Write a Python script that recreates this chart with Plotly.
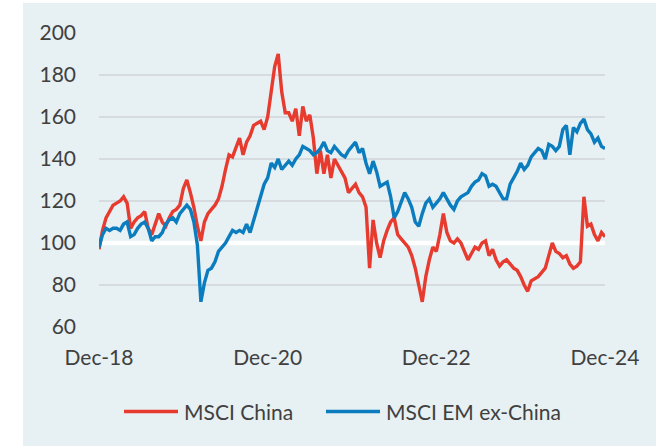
import pandas as pd
import plotly.graph_objects as go

# semi-monthly observations, Dec-2018 .. Dec-2024
dates = pd.date_range(start="2018-12-31", end="2024-12-31", periods=145)

msci_china = [
    97, 106, 112, 115, 118, 119, 120, 122, 119, 107,
    110, 112, 113, 115, 107, 104, 109, 114, 110, 108,
    112, 115, 116, 118, 126, 130, 124, 117, 108, 101,
    110, 114, 116, 118, 121, 127, 135, 142, 141, 145,
    150, 142, 148, 151, 156, 157, 158, 154, 160, 172,
    184, 190, 172, 162, 162, 158, 164, 151, 165, 158,
    161, 150, 133, 144, 133, 142, 131, 140, 137, 134,
    131, 124, 126, 128, 124, 122, 117, 88, 111, 100,
    93, 101, 106, 110, 112, 104, 102, 100, 98, 94,
    88, 80, 72, 84, 92, 98, 96, 104, 114, 105,
    101, 100, 102, 100, 96, 92, 95, 98, 97, 100,
    101, 94, 97, 92, 89, 91, 92, 90, 88, 87,
    84, 80, 77, 82, 83, 84, 86, 88, 94, 100,
    96, 95, 93, 94, 90, 88, 89, 91, 122, 108,
    109, 104, 101, 105, 103,
]

msci_em_ex_china = [
    98, 104, 107, 106, 107, 107, 106, 109, 110, 103,
    104, 107, 109, 110, 107, 101, 103, 103, 105, 109,
    111, 112, 110, 114, 116, 118, 116, 110, 99, 72,
    81, 87, 88, 91, 96, 98, 100, 103, 106, 105,
    106, 105, 109, 105, 111, 117, 122, 128, 131, 138,
    136, 140, 135, 137, 139, 137, 140, 142, 146, 145,
    144, 142, 143, 145, 148, 144, 143, 146, 144, 142,
    141, 144, 146, 148, 143, 145, 138, 133, 139, 134,
    127, 128, 129, 122, 112, 115, 119, 124, 121, 117,
    110, 108, 114, 119, 121, 117, 119, 121, 124, 121,
    118, 116, 120, 122, 123, 124, 127, 129, 130, 133,
    132, 127, 128, 127, 124, 121, 121, 128, 131, 134,
    138, 135, 137, 141, 143, 145, 144, 140, 147, 146,
    144, 146, 154, 156, 142, 155, 153, 157, 159, 154,
    152, 148, 150, 146, 145,
]

base_value = 100  # rebased starting level (white reference line)

series_names = ["MSCI China", "MSCI EM ex-China"]
series_colors = ["#E63B2E", "#0B7DBE"]

x_tick_vals = ["2018-12-31", "2020-12-31", "2022-12-31", "2024-12-31"]
x_tick_text = ["Dec-18", "Dec-20", "Dec-22", "Dec-24"]
y_tick_vals = [60, 80, 100, 120, 140, 160, 180, 200]

W, H = 660, 446
L, R, T, B = 99, 55, 33, 119
pw, ph = W - L - R, H - T - B


def px_x(p):
    return (p - L) / pw


def px_y(p):
    return (H - B - p) / ph


FONT = "Lato"
TXT = "#404040"

fig = go.Figure()
# white reference line at the base level, drawn above the grid, below the series
fig.add_trace(go.Scatter(
    x=[dates[0], dates[-1]], y=[base_value, base_value], mode="lines",
    line=dict(color="white", width=4.5), showlegend=False, hoverinfo="skip",
))
for name, vals, col in zip(series_names, [msci_china, msci_em_ex_china], series_colors):
    fig.add_trace(go.Scatter(
        x=dates, y=vals, mode="lines", name=name,
        line=dict(color=col, width=3.4), showlegend=False,
    ))

shapes = [
    # panel background
    dict(type="rect", xref="paper", yref="paper",
         x0=px_x(23), x1=px_x(656), y0=px_y(447), y1=px_y(3),
         fillcolor="#E7F0F3", line=dict(width=0), layer="below"),
]

annotations = []
# manual legend
legend_items = [(124, 178, 182), (326, 380, 384)]
for (lx0, lx1, tx), name, col in zip(legend_items, series_names, series_colors):
    shapes.append(dict(type="line", xref="paper", yref="paper",
                       x0=px_x(lx0), x1=px_x(lx1), y0=px_y(411.5), y1=px_y(411.5),
                       line=dict(color=col, width=3.5)))
    annotations.append(dict(xref="paper", yref="paper", x=px_x(tx), y=px_y(411.5),
                            text=name, showarrow=False, xanchor="left", yanchor="middle",
                            font=dict(family=FONT, size=21, color=TXT)))

fig.update_layout(
    width=W, height=H,
    margin=dict(l=L, r=R, t=T, b=B),
    paper_bgcolor="white",
    plot_bgcolor="rgba(0,0,0,0)",
    shapes=shapes,
    annotations=annotations,
    font=dict(family=FONT, size=21, color=TXT),
    xaxis=dict(
        range=["2018-12-31", "2024-12-31"],
        tickvals=x_tick_vals, ticktext=x_tick_text,
        showgrid=False, zeroline=False, showline=False,
        ticks="", ticklabelstandoff=16,
        tickfont=dict(family=FONT, size=21, color=TXT),
    ),
    yaxis=dict(
        range=[60, 200], tickvals=y_tick_vals,
        showgrid=True, gridcolor="#D5DBDF", gridwidth=1.6,
        zeroline=False, showline=False, ticks="", ticklabelstandoff=22,
        tickfont=dict(family=FONT, size=21, color=TXT),
    ),
)

fig.write_html("out.html", config={"displayModeBar": False})

# remove the browser's default page margin so the figure sits at (0, 0)
with open("out.html", encoding="utf-8") as fh:
    html = fh.read()
html = html.replace("<body>", '<body style="margin:0;padding:0;overflow:hidden">', 1)
with open("out.html", "w", encoding="utf-8") as fh:
    fh.write(html)
